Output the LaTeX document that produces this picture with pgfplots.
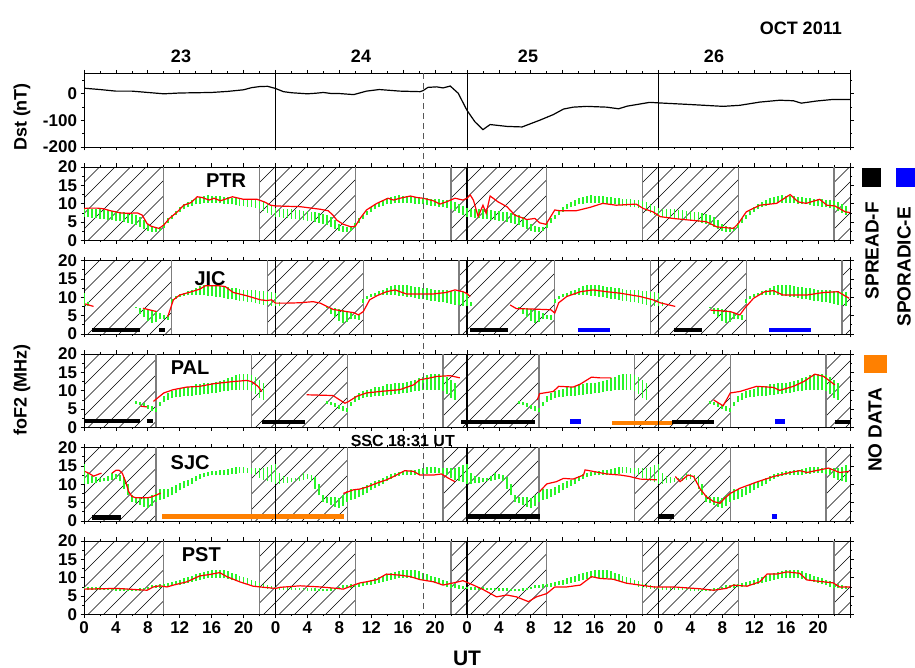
\documentclass[border=0pt]{standalone}
\usepackage{fontspec}
\setmainfont{Liberation Sans}
\usepackage{pgfplots}
\pgfplotsset{compat=1.18}
\usepackage{pgfplotstable}

\definecolor{gcol}{RGB}{40,245,40}
\definecolor{rcol}{RGB}{255,0,0}
\definecolor{ocol}{RGB}{255,128,0}
\definecolor{bcol}{RGB}{0,0,255}
\definecolor{ngray}{RGB}{125,125,125}

\newcommand{\tfont}{\fontsize{17}{17}\selectfont\bfseries}

% quiet-day reference bands (hour of day, low, high)
\pgfplotstableread{
t lo hi
0.0 6.5 8.8
0.5 6.3 8.7
1.0 6.2 8.7
1.5 6.0 8.6
2.0 5.9 8.5
2.5 5.8 8.4
3.0 5.6 8.3
3.5 5.5 8.1
4.0 5.3 8.0
4.5 5.2 7.8
5.0 5.0 7.7
5.5 4.8 7.5
6.0 4.6 7.3
6.5 4.3 7.0
7.0 3.8 6.4
7.5 3.2 5.6
8.0 2.7 4.6
8.5 2.4 3.9
9.0 2.3 3.6
9.5 2.5 3.7
10.0 3.5 4.8
10.5 4.8 6.0
11.0 5.8 7.0
11.5 6.8 8.0
12.0 7.8 9.0
12.5 8.5 9.8
13.0 9.0 10.5
13.5 9.5 11.0
14.0 9.8 11.5
14.5 10.0 11.8
15.0 10.2 12.2
15.5 10.3 12.3
16.0 10.3 12.2
16.5 10.2 12.2
17.0 10.1 12.0
17.5 10.0 11.9
18.0 10.0 11.8
18.5 9.8 11.6
19.0 9.6 11.5
19.5 9.4 11.4
20.0 9.3 11.3
20.5 9.2 11.2
21.0 9.0 11.1
21.5 8.8 11.0
22.0 8.5 10.8
22.5 8.0 10.5
23.0 7.6 10.0
23.5 7.0 9.5
}\gPTR

\pgfplotstableread{
t lo hi
0.0 7.5 11.1
0.5 7.5 8.8
6.5 7.0 7.3
7.0 5.5 7.2
7.5 4.5 7.0
8.0 3.5 6.8
8.5 3.0 6.5
9.0 3.2 6.3
9.5 4.0 5.8
10.0 4.0 5.2
10.5 3.8 5.3
11.0 8.5 9.5
11.5 9.5 10.3
12.0 10.0 10.8
12.5 10.3 11.2
13.0 10.5 11.6
13.5 10.6 12.1
14.0 10.6 12.6
14.5 10.6 13.0
15.0 10.5 13.2
15.5 10.4 13.4
16.0 10.3 13.4
16.5 10.2 13.3
17.0 10.0 13.1
17.5 9.8 12.9
18.0 9.6 12.7
18.5 9.4 12.5
19.0 9.2 12.4
19.5 9.0 12.2
20.0 8.9 12.1
20.5 8.8 12.0
21.0 8.6 12.0
21.5 8.4 11.9
22.0 8.2 11.8
22.5 8.0 11.6
23.0 7.8 11.5
23.5 7.6 11.3
}\gJIC

\pgfplotstableread{
t lo hi
6.5 6.5 7.2
7.0 6.0 7.0
7.5 5.6 6.6
8.0 5.0 6.2
8.5 4.5 5.8
9.0 4.2 5.4
9.5 5.8 7.0
10.0 7.0 8.6
10.5 7.6 9.4
11.0 8.0 9.9
11.5 8.2 10.3
12.0 8.4 10.6
12.5 8.5 10.9
13.0 8.6 11.1
13.5 8.7 11.4
14.0 8.8 11.7
14.5 8.9 11.9
15.0 9.0 12.0
15.5 9.2 12.1
16.0 9.3 12.2
16.5 9.4 12.4
17.0 9.6 12.7
17.5 9.8 13.0
18.0 10.0 13.4
18.5 10.1 13.8
19.0 10.2 14.2
19.5 10.3 14.5
20.0 10.3 14.6
20.5 10.2 14.5
21.0 9.8 14.3
21.5 9.0 13.8
22.0 8.0 13.0
22.5 7.5 12.0
}\gPAL

\pgfplotstableread{
t lo hi
0.0 10.0 15.5
0.5 10.2 13.0
1.0 10.3 12.2
1.5 10.4 12.0
2.0 10.6 11.6
2.5 10.8 11.6
3.0 11.0 12.2
3.5 11.2 13.0
4.0 11.3 12.9
4.5 10.8 12.6
5.0 8.8 12.0
5.5 7.0 10.0
6.0 5.2 7.0
6.5 4.8 6.6
7.0 4.4 6.6
7.5 3.8 6.4
8.0 3.5 6.2
8.5 4.2 7.0
9.0 5.3 7.5
9.5 5.8 8.6
10.0 6.0 8.6
10.5 6.4 8.6
11.0 7.0 9.3
11.5 7.6 9.8
12.0 8.3 10.3
12.5 8.9 10.8
13.0 9.5 11.2
13.5 10.2 11.8
14.0 10.8 12.2
14.5 11.5 12.7
15.0 11.9 13.0
15.5 12.2 13.2
16.0 12.4 13.5
16.5 12.4 13.6
17.0 12.5 13.8
17.5 12.5 13.9
18.0 12.6 14.1
18.5 12.8 14.4
19.0 12.9 14.6
19.5 13.0 14.8
20.0 13.0 14.6
20.5 13.0 14.5
21.0 12.7 14.4
21.5 12.4 14.4
22.0 11.8 14.5
22.5 11.2 14.4
23.0 10.8 14.8
23.5 10.5 15.3
}\gSJC

\pgfplotstableread{
t lo hi
0.0 6.9 7.6
0.5 6.8 7.5
1.0 6.8 7.5
1.5 6.8 7.4
2.0 6.8 7.4
2.5 6.7 7.3
3.0 6.7 7.3
3.5 6.6 7.2
4.0 6.5 7.2
4.5 6.5 7.1
5.0 6.4 7.1
5.5 6.3 7.0
6.0 6.3 7.0
6.5 6.3 7.0
7.0 6.4 7.1
7.5 6.6 7.3
8.0 6.9 7.6
8.5 7.1 7.9
9.0 7.2 8.1
9.5 7.3 8.2
10.0 7.4 8.3
10.5 7.5 8.6
11.0 7.7 8.9
11.5 7.9 9.2
12.0 8.1 9.5
12.5 8.3 9.8
13.0 8.6 10.2
13.5 8.9 10.6
14.0 9.2 11.0
14.5 9.5 11.3
15.0 9.7 11.6
15.5 9.9 11.8
16.0 10.0 12.0
16.5 10.0 12.1
17.0 10.0 12.1
17.5 9.8 12.0
18.0 9.6 11.7
18.5 9.3 11.3
19.0 9.0 10.9
19.5 8.8 10.5
20.0 8.5 10.2
20.5 8.2 9.8
21.0 7.9 9.4
21.5 7.6 9.0
22.0 7.3 8.6
22.5 7.1 8.3
23.0 7.0 8.0
23.5 6.9 7.8
}\gPST

\tikzset{
  midline/.style={black, line width=1.8pt},
  nedge/.style={ngray, line width=1.4pt},
  plabel/.style={font=\fontsize{20}{20}\selectfont\bfseries, inner sep=0pt},
  lgtext/.style={font=\fontsize{19}{19}\selectfont\bfseries, rotate=90, anchor=east, inner sep=0pt},
}
\pgfplotsset{
  panel/.style={scale only axis, width=766pt, height=73.5pt, anchor=north west,
    xmin=0, xmax=96, clip=true,
    axis line style={line width=0.8pt},
    tick align=outside, major tick length=3.5pt, minor tick length=2pt,
    tick style={black, line width=0.7pt},
    xtick={0,4,...,96}, minor xtick={2,6,...,94}, xticklabels={},
    ticklabel style={font=\tfont}},
  fof/.style={panel, ymin=0, ymax=20, ytick={0,5,10,15,20},
    yticklabels={0,5,10,15,20}, minor ytick={2.5,7.5,12.5,17.5}},
  overlay/.style={scale only axis, width=766pt, height=73.5pt, anchor=north west,
    xmin=0, xmax=96, ymin=0, ymax=20, hide axis, clip=true},
  gbars/.style={gcol, line width=1.8pt, mark=none, forget plot, -},
  redl/.style={rcol, line width=1.2pt, mark=none, unbounded coords=jump, forget plot},
  sfbar/.style={black, line width=4.5pt, mark=none, forget plot},
  sebar/.style={bcol, line width=4.5pt, mark=none, forget plot},
  ndbar/.style={ocol, line width=4.5pt, mark=none, forget plot},
}

% hatching of a night interval: #1 = panel top (pt), #2 = start hour, #3 = end hour
\newcommand{\hatchreg}[3]{%
  \begin{scope}
  \clip ({84+7.9792*#2},{#1-73.5}) rectangle ({84+7.9792*#3},{#1});
  \foreach \k in {0,...,13} {\draw[black, line width=0.6pt]
     ({84+7.9792*#2-73.5+15.5*\k},{#1-73.5}) -- ++(73.5,73.5);}
  \end{scope}}
\newcommand{\hatchA}[1]{\hatchreg{#1}{0}{10}\hatchreg{#1}{22}{34}\hatchreg{#1}{46}{58}\hatchreg{#1}{70}{82}\hatchreg{#1}{94}{96}}
\newcommand{\hatchB}[1]{\hatchreg{#1}{0}{11}\hatchreg{#1}{23}{35}\hatchreg{#1}{47}{59}\hatchreg{#1}{71}{83}\hatchreg{#1}{95}{96}}
\newcommand{\hatchC}[1]{\hatchreg{#1}{0}{9}\hatchreg{#1}{21}{33}\hatchreg{#1}{45}{57}\hatchreg{#1}{69}{81}\hatchreg{#1}{93}{96}}

\newcommand{\edges}[8]{%
  \draw[nedge] (axis cs:#1,0) -- (axis cs:#1,20);
  \draw[nedge] (axis cs:#2,0) -- (axis cs:#2,20);
  \draw[nedge] (axis cs:#3,0) -- (axis cs:#3,20);
  \draw[nedge] (axis cs:#4,0) -- (axis cs:#4,20);
  \draw[nedge] (axis cs:#5,0) -- (axis cs:#5,20);
  \draw[nedge] (axis cs:#6,0) -- (axis cs:#6,20);
  \draw[nedge] (axis cs:#7,0) -- (axis cs:#7,20);
  \draw[nedge] (axis cs:#8,0) -- (axis cs:#8,20);}
\newcommand{\midlines}{%
  \draw[midline] (axis cs:24,0) -- (axis cs:24,20);
  \draw[midline] (axis cs:48,0) -- (axis cs:48,20);
  \draw[midline] (axis cs:72,0) -- (axis cs:72,20);}
\newcommand{\greenbands}[1]{%
  \addplot[gbars, quiver={u=0, v=\thisrow{hi}-\thisrow{lo}}] table[x expr=\thisrow{t}, y=lo] {#1};
  \addplot[gbars, quiver={u=0, v=\thisrow{hi}-\thisrow{lo}}] table[x expr=\thisrow{t}+24, y=lo] {#1};
  \addplot[gbars, quiver={u=0, v=\thisrow{hi}-\thisrow{lo}}] table[x expr=\thisrow{t}+48, y=lo] {#1};
  \addplot[gbars, quiver={u=0, v=\thisrow{hi}-\thisrow{lo}}] table[x expr=\thisrow{t}+72, y=lo] {#1};}

\begin{document}
\begin{tikzpicture}[x=1pt,y=1pt]
\path[use as bounding box] (0,0) rectangle (915,668);

% night hatching (behind the panels)
\hatchA{501}
\hatchB{407.5}
\hatchC{314}
\hatchC{220.5}
\hatchA{127}

% ---------------- Dst ----------------
\begin{axis}[panel, at={(84pt,594.5pt)}, ymin=-200, ymax=75,
  ytick={-200,-100,0}, yticklabels={-200,-100,0}, minor ytick={-150,-50,50}]
\addplot[black, line width=1.2pt, mark=none] coordinates {
(0,20)(2,15)(4,9)(6,9)(8,4)(10,-1)(12,2)(14,3)(16,4)(18,8)(20,14)(21,22)(22,26)(23,27)(24,19)
(25,7)(26,3)(28,-1)(29,1)(30,4)(31,0)(32,0)(33.8,-4)(35.4,9)(37,15)(39.6,9)(42.1,7)(42.5,11)
(43.1,23)(44.2,25)(45,21)(45.9,28)(46.9,1)(48,-63)(49,-106)(50,-135)(50.9,-116)(53,-123)
(54.9,-125)(57.1,-100)(58.8,-79)(60.1,-58)(61.3,-51)(63,-48)(65.5,-51)(67,-57)(68.1,-47)
(70.9,-33)(72,-35)(75.9,-41)(80.1,-48)(82.2,-44)(84.7,-32)(87.2,-25)(88.9,-27)(89.9,-36)
(91.8,-28)(93.9,-22)(96,-22)};
\draw[black, line width=1pt] (axis cs:24,-200) -- (axis cs:24,75);
\draw[black, line width=1pt] (axis cs:48,-200) -- (axis cs:48,75);
\draw[black, line width=1pt] (axis cs:72,-200) -- (axis cs:72,75);
\coordinate (ssctop) at (axis cs:42.52,75);
\end{axis}

% ---------------- frames, night edges, event bars, labels ----------------
\begin{axis}[fof, at={(84pt,501pt)}]
\edges{10}{22}{34}{46}{58}{70}{82}{94}
\midlines
\node[plabel] at (axis cs:17.8,16.3) {PTR};
\end{axis}

\begin{axis}[fof, at={(84pt,407.5pt)}]
\edges{11}{23}{35}{47}{59}{71}{83}{95}
\addplot[sfbar] coordinates {(1.0,1.1)(7.0,1.1)};
\addplot[sfbar] coordinates {(9.4,1.1)(10.2,1.1)};
\addplot[sfbar] coordinates {(48.4,1.1)(53.1,1.1)};
\addplot[sfbar] coordinates {(74.0,1.1)(77.5,1.1)};
\addplot[sebar] coordinates {(61.9,1.1)(65.9,1.1)};
\addplot[sebar] coordinates {(85.9,1.1)(91.1,1.1)};
\midlines
\node[plabel] at (axis cs:15.8,15.0) {JIC};
\end{axis}

\begin{axis}[fof, at={(84pt,314pt)}]
\edges{9}{21}{33}{45}{57}{69}{81}{93}
\addplot[sfbar] coordinates {(0,1.8)(7.0,1.8)};
\addplot[sfbar] coordinates {(7.85,1.8)(8.6,1.8)};
\addplot[sfbar] coordinates {(22.3,1.5)(27.7,1.5)};
\addplot[sfbar] coordinates {(47.3,1.5)(56.5,1.5)};
\addplot[sfbar] coordinates {(73.7,1.5)(79.0,1.5)};
\addplot[sfbar] coordinates {(94.1,1.5)(96,1.5)};
\addplot[sebar] coordinates {(60.9,1.6)(62.3,1.6)};
\addplot[sebar] coordinates {(86.6,1.6)(87.9,1.6)};
\addplot[ndbar] coordinates {(66.2,1.2)(73.7,1.2)};
\midlines
\node[plabel] at (axis cs:13.3,16.2) {PAL};
\end{axis}

\begin{axis}[fof, at={(84pt,220.5pt)}]
\edges{9}{21}{33}{45}{57}{69}{81}{93}
\addplot[sfbar] coordinates {(1.0,0.9)(4.6,0.9)};
\addplot[sfbar] coordinates {(48.0,1.2)(57.2,1.2)};
\addplot[sfbar] coordinates {(72.0,1.2)(73.9,1.2)};
\addplot[sebar] coordinates {(86.2,1.2)(86.8,1.2)};
\addplot[ndbar] coordinates {(9.8,1.2)(32.6,1.2)};
\midlines
\node[plabel] at (axis cs:13.3,15.8) {SJC};
\end{axis}

\begin{axis}[fof, at={(84pt,127pt)},
  xticklabels={0,4,8,12,16,20,0,4,8,12,16,20,0,4,8,12,16,20,0,4,8,12,16,20,{}}]
\edges{10}{22}{34}{46}{58}{70}{82}{94}
\midlines
\node[plabel] at (axis cs:14.7,16.2) {PST};
\coordinate (sscbot) at (axis cs:42.52,0);
\end{axis}

% ---------------- data overlays: quiet-day bands and observed foF2 ----------------
\begin{axis}[overlay, at={(84pt,501pt)}]
\greenbands{\gPTR}
\addplot[redl] coordinates {
(0,8.7)(0.5,8.8)(1.7,8.8)(2.5,8.6)(3.3,8.1)(4.6,7.5)(5.5,7.4)(6.7,7.5)(7.3,6.9)(7.9,4.6)(8.4,3.9)
(9.0,3.5)(9.4,3.3)(10.0,4.2)(10.7,6.0)(11.7,7.8)(12.5,9.6)(13.4,10.3)(14.2,11.9)(14.8,11.7)(15.7,11.0)
(16.3,11.5)(17.1,10.8)(18.6,11.9)(20.0,11.2)(21.7,11.2)(22.6,10.5)(23.4,9.6)(24.0,9.4)(27.1,9.2)
(29.6,8.5)(30.6,8.1)(31.2,6.9)(31.7,5.5)(32.5,4.4)(33.5,3.7)(34.0,3.9)(34.6,6.0)(35.4,8.3)(36.7,10.1)
(38.1,11.5)(38.8,11.0)(39.6,11.5)(40.9,12.1)(41.7,11.7)(42.5,11.5)(43.8,10.8)(44.6,9.9)(45.4,10.5)
(46.5,11.5)(47.5,11.0)(48.0,11.5)(48.4,12.4)(48.8,11.0)(49.4,6.5)(50.0,9.6)(50.4,7.4)(50.9,12.1)
(51.9,10.5)(53.0,9.2)(54.0,6.9)(55.5,5.7)(56.5,6.0)(57.1,4.8)(57.9,4.4)(59.0,8.3)(59.6,8.1)(61.7,8.1)
(63.4,9.0)(65.0,10.1)(66.7,9.6)(69.2,9.9)(70.1,8.7)(71.3,7.8)(72.2,6.5)(73.8,6.0)(78.0,5.1)(79.3,3.7)
(81.4,3.3)(82.0,4.6)(83.0,7.8)(84.7,9.6)(86.8,10.1)(88.5,12.5)(89.5,10.5)(90.5,10.1)(92.2,11.2)
(93.1,9.6)(94.1,9.4)(95.4,7.8)(96,7.6)};
\end{axis}

\begin{axis}[overlay, at={(84pt,407.5pt)}]
\greenbands{\gJIC}
\addplot[redl] coordinates {
(0.1,8.2)(1.2,7.5)(1.3,nan)
(7.4,7.0)(9.1,6.1)(9.2,nan)
(10.5,4.7)(11.2,9.3)(12.0,10.6)(13.3,11.4)(14.5,12.2)(15.2,13.1)(17.0,13.1)(17.7,12.9)(18.7,11.3)
(20.4,10.4)(22.1,9.3)(22.9,9.1)(23.5,9.3)(24.0,8.4)(25.4,8.4)(27.1,8.5)(28.7,8.8)(29.6,8.4)(31.2,6.7)
(32.9,6.1)(33.8,5.8)(34.4,5.2)(35.0,6.1)(35.8,9.3)(36.7,10.4)(37.9,11.5)(39.0,12.0)(39.6,11.5)
(40.4,10.9)(43.8,10.9)(45.4,11.3)(46.5,12.0)(47.5,11.5)(48.0,11.0)(48.4,10.2)(48.5,nan)
(53.4,7.9)(54.2,6.9)(56.0,6.8)(58.5,6.6)(59.0,5.7)(59.5,8.5)(60.5,10.2)(62.2,11.5)(63.8,12.0)
(65.5,11.5)(67.2,11.1)(69.7,10.2)(71.3,9.3)(72.2,8.5)(74.1,7.5)(74.2,nan)
(78.5,6.5)(81.0,6.1)(82.2,5.2)(82.8,7.0)(83.9,9.7)(85.3,11.5)(86.4,11.8)(87.6,10.6)(90.6,10.6)
(92.7,11.3)(94.5,11.5)(95.9,9.7)};
\end{axis}

\begin{axis}[overlay, at={(84pt,314pt)}]
\greenbands{\gPAL}
\addplot[redl] coordinates {
(7.1,5.8)(7.9,5.6)(8.0,nan)
(8.7,7.1)(10.0,9.4)(11.2,10.3)(12.9,11.0)(14.5,11.2)(16.2,11.9)(17.0,12.1)(18.7,12.5)(20.4,12.8)
(21.0,12.5)(21.8,11.2)(22.3,9.8)(22.4,nan)
(27.9,8.9)(31.2,8.7)(32.7,6.6)(33.1,7.0)(34.2,8.5)(35.4,9.4)(37.1,9.8)(39.6,10.3)(41.3,11.6)
(42.1,13.0)(43.4,13.5)(44.2,13.9)(45.9,14.1)(47.1,13.5)(47.2,nan)
(56.8,7.5)(57.1,9.2)(58.8,9.8)(59.5,11.2)(61.3,11.0)(62.2,11.8)(63.6,13.7)(64.7,13.5)(66.1,13.5)(66.2,nan)
(78.9,7.5)(80.1,5.9)(81.0,9.4)(82.2,9.8)(84.3,11.2)(86.4,10.9)(87.2,10.1)(88.9,11.2)(90.2,12.5)
(91.6,14.5)(92.7,13.9)(94.1,11.6)};
\end{axis}

\begin{axis}[overlay, at={(84pt,220.5pt)}]
\greenbands{\gSJC}
\addplot[redl] coordinates {
(0.1,13.5)(0.6,13.0)(1.2,12.2)(1.9,12.8)(2.2,13.0)(2.3,nan)
(3.5,13.0)(4.0,13.8)(4.4,13.8)(4.8,13.0)(5.2,10.8)(5.6,8.0)(6.0,6.7)(6.5,6.3)(7.9,6.3)(8.4,6.5)
(9.0,7.0)(9.6,7.6)(9.7,nan)
(32.5,7.5)(33.8,8.5)(34.6,8.7)(35.4,9.2)(36.7,10.3)(37.9,11.2)(38.8,12.1)(40.2,13.7)(41.3,13.5)
(42.1,12.5)(43.8,12.5)(44.8,12.8)(45.7,11.6)(46.5,10.7)(46.6,nan)
(57.1,8.0)(58.0,10.1)(59.2,10.7)(60.1,11.6)(61.3,11.4)(62.6,12.5)(62.8,13.9)(63.8,13.5)(65.5,12.8)
(67.2,12.5)(68.4,12.1)(69.7,11.4)(71.8,11.2)(71.9,nan)
(74.1,12.1)(74.7,10.7)(75.7,12.5)(76.4,12.1)(77.2,8.8)(78.0,6.6)(78.9,5.3)(79.7,4.8)(80.3,6.2)
(81.0,7.5)(82.2,8.9)(84.3,10.6)(86.4,12.1)(88.5,13.2)(89.7,13.7)(90.6,13.2)(92.2,13.9)(93.3,14.4)
(94.7,13.2)(95.9,13.5)};
\end{axis}

\begin{axis}[overlay, at={(84pt,127pt)}]
\greenbands{\gPST}
\addplot[redl] coordinates {
(0,6.9)(4.1,7.1)(7.9,6.6)(8.7,7.5)(9.5,7.8)(10.4,7.5)(11.2,8.0)(12.9,8.9)(14.5,10.5)(15.8,10.9)
(17.0,11.4)(17.9,10.3)(19.5,8.9)(21.2,7.7)(22.5,7.4)(24.0,7.1)(24.6,7.4)(27.1,7.8)(29.6,7.5)
(31.7,7.1)(32.5,6.9)(33.8,8.0)(34.6,8.6)(35.4,8.9)(36.7,9.5)(37.9,11.0)(39.6,10.7)(40.9,10.3)
(42.1,9.5)(43.8,8.9)(45.0,8.0)(46.3,8.6)(47.5,9.2)(48.8,8.0)(50.0,6.8)(51.7,4.8)(53.0,5.3)
(54.2,4.8)(55.7,3.5)(56.7,4.8)(58.0,5.7)(59.0,7.5)(60.5,7.5)(62.2,8.0)(63.6,10.3)(64.7,9.8)
(66.3,9.6)(68.0,8.5)(69.7,8.0)(71.4,7.5)(73.9,7.5)(77.2,7.0)(78.9,6.6)(80.5,7.1)(81.4,8.0)
(83.1,7.7)(84.7,8.9)(85.6,11.0)(86.8,11.0)(88.1,11.6)(89.7,11.2)(90.6,9.4)(93.9,8.6)(94.7,7.5)
(96,7.5)};
\end{axis}

% SSC line and label
\draw[ngray!70!black, line width=1.1pt, dash pattern=on 6pt off 4pt] (ssctop) -- (sscbot);
\node[font=\fontsize{16}{16}\selectfont\bfseries, anchor=east, inner sep=0pt] at (455,227) {SSC 18:31 UT};

% titles and axis labels
\node[font=\fontsize{18}{18}\selectfont\bfseries, anchor=east, inner sep=0pt] at (842,640) {OCT 2011};
\node[font=\fontsize{18}{18}\selectfont\bfseries, inner sep=0pt] at (181,612) {23};
\node[font=\fontsize{18}{18}\selectfont\bfseries, inner sep=0pt] at (361,612) {24};
\node[font=\fontsize{18}{18}\selectfont\bfseries, inner sep=0pt] at (528,612) {25};
\node[font=\fontsize{18}{18}\selectfont\bfseries, inner sep=0pt] at (714,612) {26};
\node[font=\fontsize{18}{18}\selectfont\bfseries, rotate=90, inner sep=0pt] at (22,551) {Dst (nT)};
\node[font=\fontsize{18}{18}\selectfont\bfseries, rotate=90, inner sep=0pt] at (22,278) {foF2 (MHz)};
\node[font=\fontsize{21}{21}\selectfont\bfseries, inner sep=0pt] at (467,10) {UT};

% legend
\fill[black] (862,481) rectangle (881,500);
\fill[bcol] (896,481) rectangle (915,500);
\fill[ocol] (864,295) rectangle (887,313);
\node[lgtext] at (872,466) {SPREAD-F};
\node[lgtext] at (904,461) {SPORADIC-E};
\node[lgtext] at (875,280) {NO DATA};
\end{tikzpicture}
\end{document}
